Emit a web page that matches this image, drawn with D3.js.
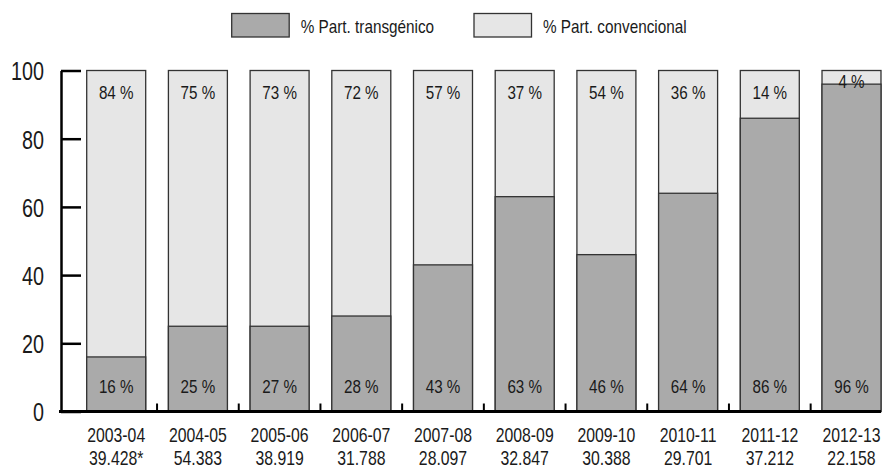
<!DOCTYPE html>
<html>
<head>
<meta charset="utf-8">
<script src="https://cdn.jsdelivr.net/npm/d3@7"></script>
<style>
  html, body { margin: 0; padding: 0; background: #fff; }
  svg { display: block; }
  text { font-family: "Liberation Sans", Arial, sans-serif; fill: #1a1a1a; }
</style>
</head>
<body>
<svg id="chart" width="883" height="469"></svg>
<script>
// ---- data ----
const seasons = ["2003-04","2004-05","2005-06","2006-07","2007-08","2008-09","2009-10","2010-11","2011-12","2012-13"];
const totals = ["39.428*","54.383","38.919","31.788","28.097","32.847","30.388","29.701","37.212","22.158"];
// bar heights of the transgenic share as drawn
const transgenicBar = [16, 25, 25, 28, 43, 63, 46, 64, 86, 96];
// printed labels
const transgenicLabel = [16, 25, 27, 28, 43, 63, 46, 64, 86, 96];
const conventionalLabel = [84, 75, 73, 72, 57, 37, 54, 36, 14, 4];
const yTicks = [0, 20, 40, 60, 80, 100];
const legendLabels = ["% Part. transgénico", "% Part. convencional"];

const colTrans = "#aaaaaa";
const colConv = "#e6e6e6";
const strokeCol = "#333333";

const svg = d3.select("#chart");

const x = d3.scaleBand()
  .domain(seasons)
  .range([75.35, 892.35])
  .paddingInner(0.278)
  .paddingOuter(0.139);

const y = d3.scaleLinear().domain([0, 100]).range([411.5, 70.5]);

const rows = seasons.map((s, i) => ({
  season: s, total: totals[i], t: transgenicBar[i],
  tl: transgenicLabel[i], cl: conventionalLabel[i]
}));
const cx = d => x(d.season) + x.bandwidth() / 2;
// condensed text helper
const squeeze = (sel, fx, fy, sx) =>
  sel.attr("transform", (d, i) => `translate(${fx(d, i)},${fy(d, i)}) scale(${sx},1)`);

// conventional (full bar to 100)
svg.append("g").selectAll("rect").data(rows).join("rect")
  .attr("x", d => x(d.season))
  .attr("y", y(100))
  .attr("width", x.bandwidth())
  .attr("height", y(0) - y(100))
  .attr("fill", colConv)
  .attr("stroke", strokeCol)
  .attr("stroke-width", 1.3);

// transgenic
svg.append("g").selectAll("rect").data(rows).join("rect")
  .attr("x", d => x(d.season))
  .attr("y", d => y(d.t))
  .attr("width", x.bandwidth())
  .attr("height", d => y(0) - y(d.t))
  .attr("fill", colTrans)
  .attr("stroke", strokeCol)
  .attr("stroke-width", 1.3);

// labels inside bars
const lab = svg.append("g").attr("font-size", 19).attr("text-anchor", "middle");
squeeze(lab.selectAll("text.cl").data(rows).join("text").attr("class", "cl").text(d => d.cl + " %"),
  cx, d => (y(d.t) - y(100) < 40 ? y(100) + 17.5 : y(100) + 28), 0.8);
squeeze(lab.selectAll("text.tl").data(rows).join("text").attr("class", "tl").text(d => d.tl + " %"),
  cx, () => y(0) - 19, 0.8);

// y axis
const yAxis = d3.axisLeft(y).tickValues(yTicks).tickSize(-20).tickSizeOuter(0).tickPadding(17);
const gy = svg.append("g").attr("transform", "translate(61,0)").call(yAxis);
gy.select(".domain").attr("stroke", "#000").attr("stroke-width", 2.5);
gy.selectAll(".tick line").attr("stroke", "#000").attr("stroke-width", 2.5);
gy.selectAll(".tick text")
  .attr("font-size", 26)
  .attr("font-family", "\"Liberation Sans\", Arial, sans-serif")
  .attr("fill", "#1a1a1a")
  .attr("x", null)
  .attr("dy", "0.36em")
  .attr("transform", "translate(-17,0) scale(0.76,1)");

// x axis baseline
svg.append("line")
  .attr("x1", 59).attr("x2", 881)
  .attr("y1", y(0)).attr("y2", y(0))
  .attr("stroke", "#000").attr("stroke-width", 3);

// small separator ticks between bars
const bounds = seasons.slice(1).map(s => x(s) - x.step() * x.paddingInner() / 2);
svg.append("g").selectAll("line").data(bounds).join("line")
  .attr("x1", d => d).attr("x2", d => d)
  .attr("y1", y(0)).attr("y2", y(0) - 8)
  .attr("stroke", "#000").attr("stroke-width", 2);

// category labels
const cat = svg.append("g").attr("font-size", 20).attr("text-anchor", "middle");
squeeze(cat.selectAll("text.s").data(rows).join("text").attr("class", "s").text(d => d.season),
  cx, () => 442, 0.79);
squeeze(cat.selectAll("text.t").data(rows).join("text").attr("class", "t").text(d => d.total),
  cx, () => 465, 0.79);

// legend
const legendX = [231.7, 474];
const leg = svg.append("g");
legendLabels.forEach((l, i) => {
  leg.append("rect")
    .attr("x", legendX[i]).attr("y", 13.5)
    .attr("width", 57.5).attr("height", 23.5)
    .attr("fill", i === 0 ? colTrans : colConv)
    .attr("stroke", strokeCol).attr("stroke-width", 1.3);
  leg.append("text")
    .attr("transform", `translate(${legendX[i] + 69},32.5) scale(0.85,1)`)
    .attr("font-size", 18)
    .text(l);
});
</script>
</body>
</html>
